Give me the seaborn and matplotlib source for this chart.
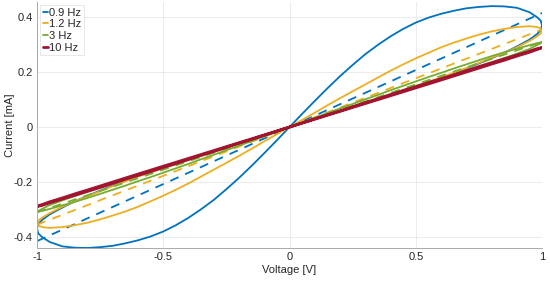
import matplotlib
matplotlib.use('Agg')
import matplotlib.pyplot as plt
import seaborn as sns

freqs = ['0.9 Hz', '1.2 Hz', '3 Hz', '10 Hz']
colors = ['#0072BD', '#EDAE20', '#77AC30', '#A2142F']

# voltage grids: dense for the bulging branch, coarse for the near-linear return branch
bulge_v = [0, 0.05, 0.1, 0.15, 0.2, 0.25, 0.3, 0.35, 0.4, 0.45, 0.5, 0.55,
           0.6, 0.65, 0.7, 0.75, 0.8, 0.85, 0.9, 0.95, 0.98, 0.995, 1.0]
return_v = [1.0, 0.995, 0.98, 0.95, 0.9, 0.85, 0.8, 0.7, 0.6, 0.4, 0.2, 0]
bulge_v_neg = [0, -0.05, -0.1, -0.15, -0.2, -0.25, -0.3, -0.35, -0.4, -0.45, -0.5, -0.55,
               -0.6, -0.65, -0.7, -0.75, -0.8, -0.85, -0.9, -0.95, -0.98, -0.995, -1.0]
return_v_neg = [-1.0, -0.995, -0.98, -0.95, -0.9, -0.85, -0.8, -0.7, -0.6, -0.4, -0.2, 0]

# current [mA], positive lobe
bulge_pos = {
    '0.9 Hz': [0, 0.048, 0.095, 0.141, 0.185, 0.226, 0.265, 0.299, 0.33, 0.357, 0.38, 0.398,
               0.412, 0.423, 0.432, 0.437, 0.44, 0.439, 0.434, 0.418, 0.4, 0.387, 0.37],
    '1.2 Hz': [0, 0.026, 0.052, 0.079, 0.105, 0.13, 0.155, 0.18, 0.205, 0.228, 0.25, 0.27,
               0.29, 0.307, 0.322, 0.336, 0.348, 0.357, 0.364, 0.367, 0.364, 0.358, 0.35],
    '3 Hz': [0, 0.017, 0.034, 0.051, 0.068, 0.084, 0.101, 0.117, 0.134, 0.15, 0.166, 0.182,
             0.197, 0.213, 0.228, 0.243, 0.258, 0.272, 0.285, 0.298, 0.305, 0.308, 0.31],
    '10 Hz': [0, 0.015, 0.03, 0.045, 0.059, 0.074, 0.089, 0.103, 0.118, 0.133, 0.147, 0.162,
              0.176, 0.19, 0.205, 0.22, 0.234, 0.248, 0.262, 0.276, 0.285, 0.288, 0.29],
}
return_pos = {
    '0.9 Hz': [0.37, 0.353, 0.338, 0.318, 0.293, 0.27, 0.25, 0.213, 0.178, 0.118, 0.059, 0],
    '1.2 Hz': [0.35, 0.34, 0.33, 0.313, 0.29, 0.27, 0.252, 0.215, 0.18, 0.12, 0.06, 0],
    '3 Hz': [0.31, 0.305, 0.298, 0.284, 0.267, 0.251, 0.235, 0.204, 0.174, 0.116, 0.058, 0],
    '10 Hz': [0.29, 0.287, 0.282, 0.272, 0.258, 0.243, 0.229, 0.2, 0.171, 0.114, 0.057, 0],
}
# current [mA], negative lobe
bulge_neg = {
    '0.9 Hz': [0, -0.048, -0.095, -0.141, -0.185, -0.226, -0.265, -0.299, -0.33, -0.357, -0.38, -0.398,
               -0.412, -0.423, -0.432, -0.437, -0.44, -0.439, -0.434, -0.418, -0.4, -0.387, -0.37],
    '1.2 Hz': [0, -0.026, -0.052, -0.079, -0.105, -0.13, -0.155, -0.18, -0.205, -0.228, -0.25, -0.27,
               -0.29, -0.307, -0.322, -0.336, -0.348, -0.357, -0.364, -0.367, -0.364, -0.358, -0.35],
    '3 Hz': [0, -0.017, -0.034, -0.051, -0.068, -0.084, -0.101, -0.117, -0.134, -0.15, -0.166, -0.182,
             -0.197, -0.213, -0.228, -0.243, -0.258, -0.272, -0.285, -0.298, -0.305, -0.308, -0.31],
    '10 Hz': [0, -0.015, -0.03, -0.045, -0.059, -0.074, -0.089, -0.103, -0.118, -0.133, -0.147, -0.162,
              -0.176, -0.19, -0.205, -0.22, -0.234, -0.248, -0.262, -0.276, -0.285, -0.288, -0.29],
}
return_neg = {
    '0.9 Hz': [-0.37, -0.353, -0.338, -0.318, -0.293, -0.27, -0.25, -0.213, -0.178, -0.118, -0.059, 0],
    '1.2 Hz': [-0.35, -0.34, -0.33, -0.313, -0.29, -0.27, -0.252, -0.215, -0.18, -0.12, -0.06, 0],
    '3 Hz': [-0.31, -0.305, -0.298, -0.284, -0.267, -0.251, -0.235, -0.204, -0.174, -0.116, -0.058, 0],
    '10 Hz': [-0.29, -0.287, -0.282, -0.272, -0.258, -0.243, -0.229, -0.2, -0.171, -0.114, -0.057, 0],
}

# dashed linear references (endpoints at -1 V and 1 V)
line_volts = [-1, 1]
line_currents = {
    '0.9 Hz': [-0.415, 0.415],
    '1.2 Hz': [-0.355, 0.355],
    '3 Hz': [-0.31, 0.31],
    '10 Hz': [-0.29, 0.29],
}

sns.set_style('whitegrid')
plt.rcParams['font.family'] = ['Liberation Sans', 'DejaVu Sans']

fig = plt.figure(figsize=(5.5, 2.82), dpi=100)
ax = fig.add_axes([0.0673, 0.1206, 0.9182, 0.8723])

widths = [1.3, 1.3, 1.3, 2.0]
handles = []
for f, c, lw in zip(freqs, colors, widths):
    xs = bulge_v + return_v + bulge_v_neg + return_v_neg
    ys = bulge_pos[f] + return_pos[f] + bulge_neg[f] + return_neg[f]
    sns.lineplot(x=xs, y=ys, sort=False, estimator=None, color=c, lw=lw, ax=ax)
    handles.append(ax.lines[-1])
    sns.lineplot(x=line_volts, y=line_currents[f], sort=False, estimator=None,
                 color=c, lw=1.3, ax=ax)
    ax.lines[-1].set_dashes([5, 4])

ax.set_xlim(-1, 1)
ax.set_ylim(-0.44, 0.455)
ax.set_xticks([-1, -0.5, 0, 0.5, 1])
ax.set_xticklabels(['-1', '-0.5', '0', '0.5', '1'])
ax.set_yticks([-0.4, -0.2, 0, 0.2, 0.4])
ax.set_yticklabels(['-0.4', '-0.2', '0', '0.2', '0.4'])
ax.grid(True, color='#e8e8e8', lw=0.6)
ax.tick_params(axis='both', direction='in', length=3, width=0.6, color='#999999',
               labelsize=8, labelcolor='#262626', pad=3)
for side in ['top', 'right']:
    ax.spines[side].set_visible(False)
for side in ['left', 'bottom']:
    ax.spines[side].set_color('#aaaaaa')
    ax.spines[side].set_linewidth(0.7)
ax.set_xlabel('Voltage [V]', fontsize=8, color='#262626', labelpad=2)
ax.set_ylabel('Current [mA]', fontsize=8, color='#262626')
ax.yaxis.set_label_coords(-0.043, 0.5)

leg = ax.legend(handles, freqs, loc='upper left', fontsize=8, handlelength=0.5,
                handletextpad=0.1, borderpad=0.2, labelspacing=0.15,
                borderaxespad=0.3, frameon=True, fancybox=False)
leg.get_frame().set_edgecolor('#dddddd')
leg.get_frame().set_linewidth(0.6)

plt.savefig('out.png', dpi=100)
